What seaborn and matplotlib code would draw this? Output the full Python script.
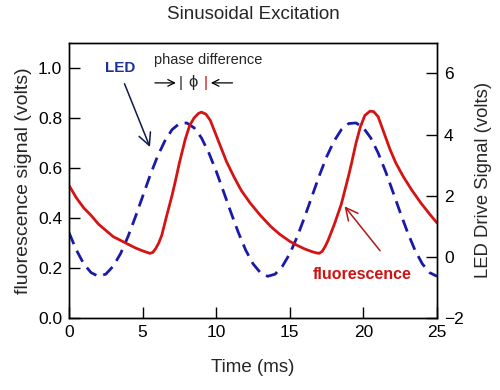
import matplotlib
matplotlib.use("Agg")
import matplotlib.pyplot as plt
import seaborn as sns
import pandas as pd

# LED drive signal (right axis, volts), sampled every 0.5 ms
led_time = [i * 0.5 for i in range(51)]
led_volts = [0.79, 0.22, -0.23, -0.52, -0.64, -0.57, -0.31, 0.10, 0.65, 1.29,
             1.97, 2.65, 3.27, 3.78, 4.16, 4.36, 4.38, 4.22, 3.89, 3.40,
             2.80, 2.13, 1.45, 0.80, 0.22, -0.23, -0.52, -0.64, -0.57, -0.31,
             0.10, 0.65, 1.29, 1.97, 2.65, 3.27, 3.78, 4.16, 4.36, 4.38,
             4.22, 3.89, 3.40, 2.80, 2.13, 1.45, 0.80, 0.22, -0.23, -0.52,
             -0.64]

# fluorescence signal (left axis, volts)
fl_time = [0, 0.5, 1.0, 1.5, 2.0, 2.5, 3.0, 3.5, 4.0, 4.5, 5.0, 5.3, 5.5, 5.7,
           5.9, 6.1, 6.3, 6.6, 7.0, 7.2, 7.5, 7.9, 8.2, 8.5, 8.8, 9.0, 9.3,
           9.6, 10.0, 10.3, 10.7, 11.2, 11.7, 12.3, 13.0, 13.7, 14.3, 15.0,
           15.5, 16.0, 16.5, 16.8, 17.0, 17.2, 17.4, 17.6, 18.0, 18.5, 19.0,
           19.2, 19.5, 19.8, 20.1, 20.45, 20.7, 21.0, 21.4, 21.8, 22.2, 22.7,
           23.3, 23.9, 24.5, 25.0]
fl_volts = [0.53, 0.48, 0.44, 0.41, 0.375, 0.35, 0.325, 0.31, 0.295, 0.28,
            0.268, 0.262, 0.258, 0.262, 0.278, 0.30, 0.33, 0.40, 0.49, 0.54,
            0.62, 0.715, 0.77, 0.80, 0.818, 0.823, 0.815, 0.79, 0.73, 0.685,
            0.625, 0.565, 0.51, 0.46, 0.41, 0.366, 0.335, 0.306, 0.29, 0.276,
            0.265, 0.26, 0.258, 0.266, 0.285, 0.31, 0.37, 0.455, 0.57, 0.62,
            0.70, 0.765, 0.81, 0.827, 0.825, 0.805, 0.74, 0.675, 0.62, 0.566,
            0.51, 0.46, 0.415, 0.38]

left_ticks = [0.0, 0.2, 0.4, 0.6, 0.8, 1.0]
right_ticks = [-2, 0, 2, 4, 6]
x_ticks = [0, 5, 10, 15, 20, 25]

sns.set_style("white")
plt.rcParams['font.family'] = ['Liberation Sans', 'DejaVu Sans']

led_df = pd.DataFrame({'t': led_time, 'v': led_volts})
fl_df = pd.DataFrame({'t': fl_time, 'v': fl_volts})

fig = plt.figure(figsize=(5, 3.9), dpi=100)
ax = fig.add_axes([0.138, 0.185, 0.736, 0.705])
ax2 = ax.twinx()

sns.lineplot(data=led_df, x='t', y='v', ax=ax2, color='#1a1aa8', linewidth=2)
ax2.lines[0].set_dashes([4.5, 2.6])
sns.lineplot(data=fl_df, x='t', y='v', ax=ax, color='#d41414', linewidth=2)

ax.set_zorder(ax2.get_zorder() + 1)
ax.patch.set_visible(False)

ax.set_xlim(0, 25)
ax.set_ylim(0, 1.1)
ax2.set_ylim(-2, 7)
ax.set_xticks(x_ticks)
ax.set_yticks(left_ticks)
ax.set_yticklabels([f"{v:.1f}" for v in left_ticks])
ax2.set_yticks(right_ticks)

ax.tick_params(axis='both', direction='in', length=8, width=1, labelsize=12.5,
               left=True, bottom=True, pad=5, colors='black')
ax2.tick_params(axis='y', direction='in', length=8, width=1, labelsize=12.5,
                right=True, pad=5, colors='black')
for a in (ax, ax2):
    for s in a.spines.values():
        s.set_color('black')
        s.set_linewidth(1)

ax.set_xlabel('Time (ms)', fontsize=13.5, labelpad=14)
ax.set_ylabel('fluorescence signal (volts)', fontsize=14, labelpad=4)
ax2.set_ylabel('LED Drive Signal (volts)', fontsize=13.3, labelpad=8)
ax.set_title('Sinusoidal Excitation', fontsize=13.5, pad=17)

# annotations
ax.text(3.5, 1.0, 'LED', color='#1c2f9c', fontsize=11, fontweight='bold',
        ha='center', va='center')
ax.annotate('', xy=(5.57, 0.673), xytext=(3.7, 0.947),
            arrowprops=dict(arrowstyle='->', color='#101850', lw=1.1,
                            mutation_scale=22))
ax.text(9.45, 1.03, 'phase difference', fontsize=10.5, ha='center', va='center')
ax.annotate('', xy=(7.45, 0.94), xytext=(5.65, 0.94),
            arrowprops=dict(arrowstyle='->', color='black', lw=0.9,
                            mutation_scale=12))
ax.text(7.6, 0.94, '|', fontsize=11, ha='center', va='center')
ax.text(8.45, 0.94, 'ϕ', fontsize=12, ha='center', va='center')
ax.text(9.25, 0.94, '|', fontsize=11, color='#c01010', ha='center', va='center')
ax.annotate('', xy=(9.45, 0.94), xytext=(11.3, 0.94),
            arrowprops=dict(arrowstyle='->', color='black', lw=0.9,
                            mutation_scale=12))
ax.text(19.95, 0.172, 'fluorescence', color='#cc1414', fontsize=11.5,
        fontweight='bold', ha='center', va='center')
ax.annotate('', xy=(18.6, 0.455), xytext=(21.25, 0.26),
            arrowprops=dict(arrowstyle='->', color='#b01818', lw=1.1,
                            mutation_scale=22))

fig.savefig('out.png', dpi=100)
